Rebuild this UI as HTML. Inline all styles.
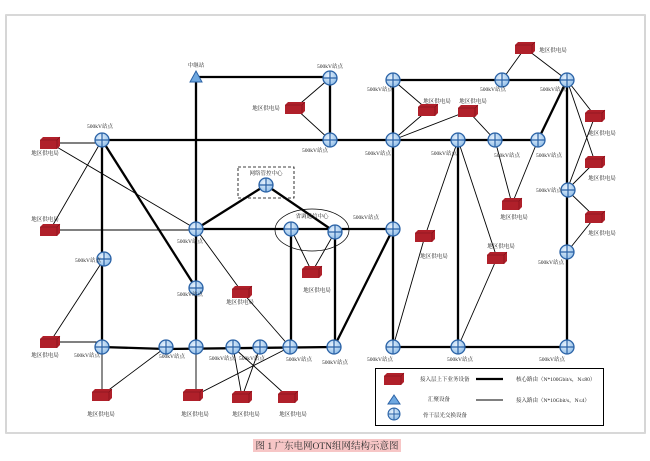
<!DOCTYPE html>
<html><head><meta charset="utf-8"><style>
html,body{margin:0;padding:0;background:#fff;width:650px;height:461px;overflow:hidden}
svg{display:block}
text{font-family:"Liberation Serif","Noto Serif CJK SC","Noto Sans CJK SC",serif;font-size:5.5px;fill:#222}
</style></head><body>
<svg width="650" height="461" viewBox="0 0 650 461" xmlns="http://www.w3.org/2000/svg">
<defs>
<radialGradient id="g" cx="40%" cy="35%" r="70%"><stop offset="0" stop-color="#e8f2fc"/><stop offset="1" stop-color="#8fbde8"/></radialGradient>
<g id="n"><circle r="7" fill="url(#g)" stroke="#2a62a6" stroke-width="1.3"/><path d="M-7 0H7M0 -7V7" stroke="#2a62a6" stroke-width="1.2"/></g>
<g id="b"><path d="M-10 -3 L-7 -6 L10 -6 L10 3 L7 6 L-10 6Z" fill="#b0202a"/><path d="M-10 -3 L7 -3 L10 -6 M7 -3 V6" stroke="#7a1018" stroke-width="0.6" fill="none"/></g>
</defs>
<rect x="6" y="15" width="639" height="418" fill="none" stroke="#c8c8c8" stroke-width="1.5"/>
<line x1="6" y1="15" x2="645" y2="15" stroke="#d8d8d8" stroke-width="2"/>
<line x1="6" y1="433" x2="645" y2="433" stroke="#d8d8d8" stroke-width="2"/>

<!-- thick lines -->
<g stroke="#000" stroke-width="2.3" fill="none">
<path d="M196 77H330V140"/>
<path d="M196 77V347"/>
<path d="M102 140H538"/>
<path d="M538 140L567 80"/>
<path d="M393 80H567V347"/>
<path d="M393 80V347"/>
<path d="M393 347H567"/>
<path d="M102 140V347"/>
<path d="M102 140L196 288"/>
<path d="M196 229L266 185L335 232"/>
<path d="M196 229H393"/>
<path d="M291 229V347"/>
<path d="M335 232V347"/>
<path d="M393 229L334 347"/>
<path d="M102 347L166 349L334 347"/>
<path d="M458 140V347"/>
</g>
<!-- thin lines -->
<g stroke="#000" stroke-width="0.9" fill="none">
<path d="M330 78L295 108L330 140"/>
<path d="M50 143H102M50 143L196 229M102 140L50 230H196"/>
<path d="M196 229L242 292L290 347"/>
<path d="M104 259L50 342H102"/>
<path d="M102 347V395L166 347"/>
<path d="M196 347V395L290 347"/>
<path d="M233 347L242 397L260 347M233 347L288 397"/>
<path d="M291 229L312 272L335 232"/>
<path d="M393 80L428 110L393 140L468 111L495 140"/>
<path d="M502 80L525 48L567 80"/>
<path d="M567 80L595 116L567 190L595 162L567 80L567 190"/>
<path d="M567 190L595 217L567 252"/>
<path d="M495 140L512 204L538 140"/>
<path d="M458 140L425 236L393 347"/>
<path d="M458 140L497 258L458 347"/>
</g>
<rect x="238" y="167" width="56" height="31" fill="none" stroke="#000" stroke-width="0.8" stroke-dasharray="3,2"/>
<ellipse cx="312" cy="230" rx="37" ry="21" fill="none" stroke="#000" stroke-width="0.7"/>

<!-- triangle -->
<path d="M196 71L202 82H190Z" fill="#6fa8e0" stroke="#2a62a6" stroke-width="1"/>

<!-- nodes -->
<g>
<use href="#n" x="330" y="78"/><use href="#n" x="393" y="80"/><use href="#n" x="502" y="80"/><use href="#n" x="567" y="80"/>
<use href="#n" x="102" y="140"/><use href="#n" x="330" y="140"/><use href="#n" x="393" y="140"/><use href="#n" x="458" y="140"/><use href="#n" x="495" y="140"/><use href="#n" x="538" y="140"/>
<use href="#n" x="568" y="190"/><use href="#n" x="567" y="252"/><use href="#n" x="266" y="185"/>
<use href="#n" x="196" y="229"/><use href="#n" x="291" y="229"/><use href="#n" x="335" y="232"/><use href="#n" x="393" y="229"/>
<use href="#n" x="104" y="259"/><use href="#n" x="196" y="288"/>
<use href="#n" x="102" y="347"/><use href="#n" x="166" y="347"/><use href="#n" x="196" y="347"/><use href="#n" x="233" y="347"/><use href="#n" x="260" y="347"/><use href="#n" x="290" y="347"/><use href="#n" x="334" y="347"/>
<use href="#n" x="393" y="347"/><use href="#n" x="458" y="347"/><use href="#n" x="567" y="347"/>
</g>
<!-- boxes -->
<g>
<use href="#b" x="525" y="48"/><use href="#b" x="50" y="143"/><use href="#b" x="50" y="230"/><use href="#b" x="50" y="342"/>
<use href="#b" x="295" y="108"/><use href="#b" x="428" y="110"/><use href="#b" x="468" y="111"/>
<use href="#b" x="595" y="116"/><use href="#b" x="595" y="162"/><use href="#b" x="595" y="217"/>
<use href="#b" x="512" y="204"/><use href="#b" x="425" y="236"/><use href="#b" x="497" y="258"/>
<use href="#b" x="312" y="272"/><use href="#b" x="242" y="292"/>
<use href="#b" x="102" y="395"/><use href="#b" x="193" y="395"/><use href="#b" x="242" y="397"/><use href="#b" x="288" y="397"/>
</g>

<!-- labels -->
<g text-anchor="middle">
<text x="196" y="67">中继站</text>
<text x="330" y="68">500kV站点</text>
<text x="380" y="91">500kV站点</text>
<text x="493" y="91">500kV站点</text>
<text x="553" y="91">500kV站点</text>
<text x="553" y="52">地区供电局</text>
<text x="100" y="128">500kV站点</text>
<text x="45" y="155">地区供电局</text>
<text x="45" y="221">地区供电局</text>
<text x="45" y="357">地区供电局</text>
<text x="266" y="110">地区供电局</text>
<text x="315" y="152">500kV站点</text>
<text x="378" y="155">500kV站点</text>
<text x="437" y="103">地区供电局</text>
<text x="473" y="103">地区供电局</text>
<text x="444" y="155">500kV站点</text>
<text x="507" y="157">500kV站点</text>
<text x="549" y="157">500kV站点</text>
<text x="602" y="135">地区供电局</text>
<text x="602" y="180">地区供电局</text>
<text x="602" y="235">地区供电局</text>
<text x="549" y="192">500kV站点</text>
<text x="551" y="264">500kV站点</text>
<text x="514" y="219">地区供电局</text>
<text x="266" y="175">网络管控中心</text>
<text x="312" y="218">省调通信中心</text>
<text x="366" y="219">500kV站点</text>
<text x="190" y="243">500kV站点</text>
<text x="434" y="258">地区供电局</text>
<text x="501" y="248">地区供电局</text>
<text x="317" y="292">地区供电局</text>
<text x="240" y="304">地区供电局</text>
<text x="88" y="262">500kV站点</text>
<text x="190" y="296">500kV站点</text>
<text x="87" y="357">500kV站点</text>
<text x="172" y="358">500kV站点</text>
<text x="222" y="360">500kV站点</text>
<text x="252" y="360">500kV站点</text>
<text x="299" y="361">500kV站点</text>
<text x="335" y="364">500kV站点</text>
<text x="380" y="361">500kV站点</text>
<text x="460" y="361">500kV站点</text>
<text x="552" y="361">500kV站点</text>
<text x="101" y="416">地区供电局</text>
<text x="195" y="416">地区供电局</text>
<text x="246" y="416">地区供电局</text>
<text x="293" y="416">地区供电局</text>
</g>

<!-- legend -->
<rect x="375.5" y="368.5" width="228" height="57" fill="#fff" stroke="#000" stroke-width="1"/>
<use href="#b" x="394" y="379"/>
<text x="420" y="381">接入层上下业务设备</text>
<line x1="476" y1="379" x2="503" y2="379" stroke="#000" stroke-width="2.3"/>
<text x="516" y="381">核心路由（N*100Gbit/s，N≤80）</text>
<path d="M394 395L400 404H388Z" fill="#6fa8e0" stroke="#2a62a6" stroke-width="1"/>
<text x="428" y="401">汇聚设备</text>
<line x1="476" y1="400" x2="503" y2="400" stroke="#000" stroke-width="1"/>
<text x="516" y="402">接入路由（N*10Gbit/s，N≤4）</text>
<use href="#n" x="394" y="414" transform="translate(394 414) scale(0.85) translate(-394 -414)"/>
<text x="423" y="417">骨干层光交换设备</text>

<!-- caption -->
<rect x="253" y="439" width="148" height="13" fill="#f7c6c6"/>
<text x="327" y="449" text-anchor="middle" style="font-size:9.5px;fill:#333">图 1 广东电网OTN组网结构示意图</text>
</svg>
</body></html>
